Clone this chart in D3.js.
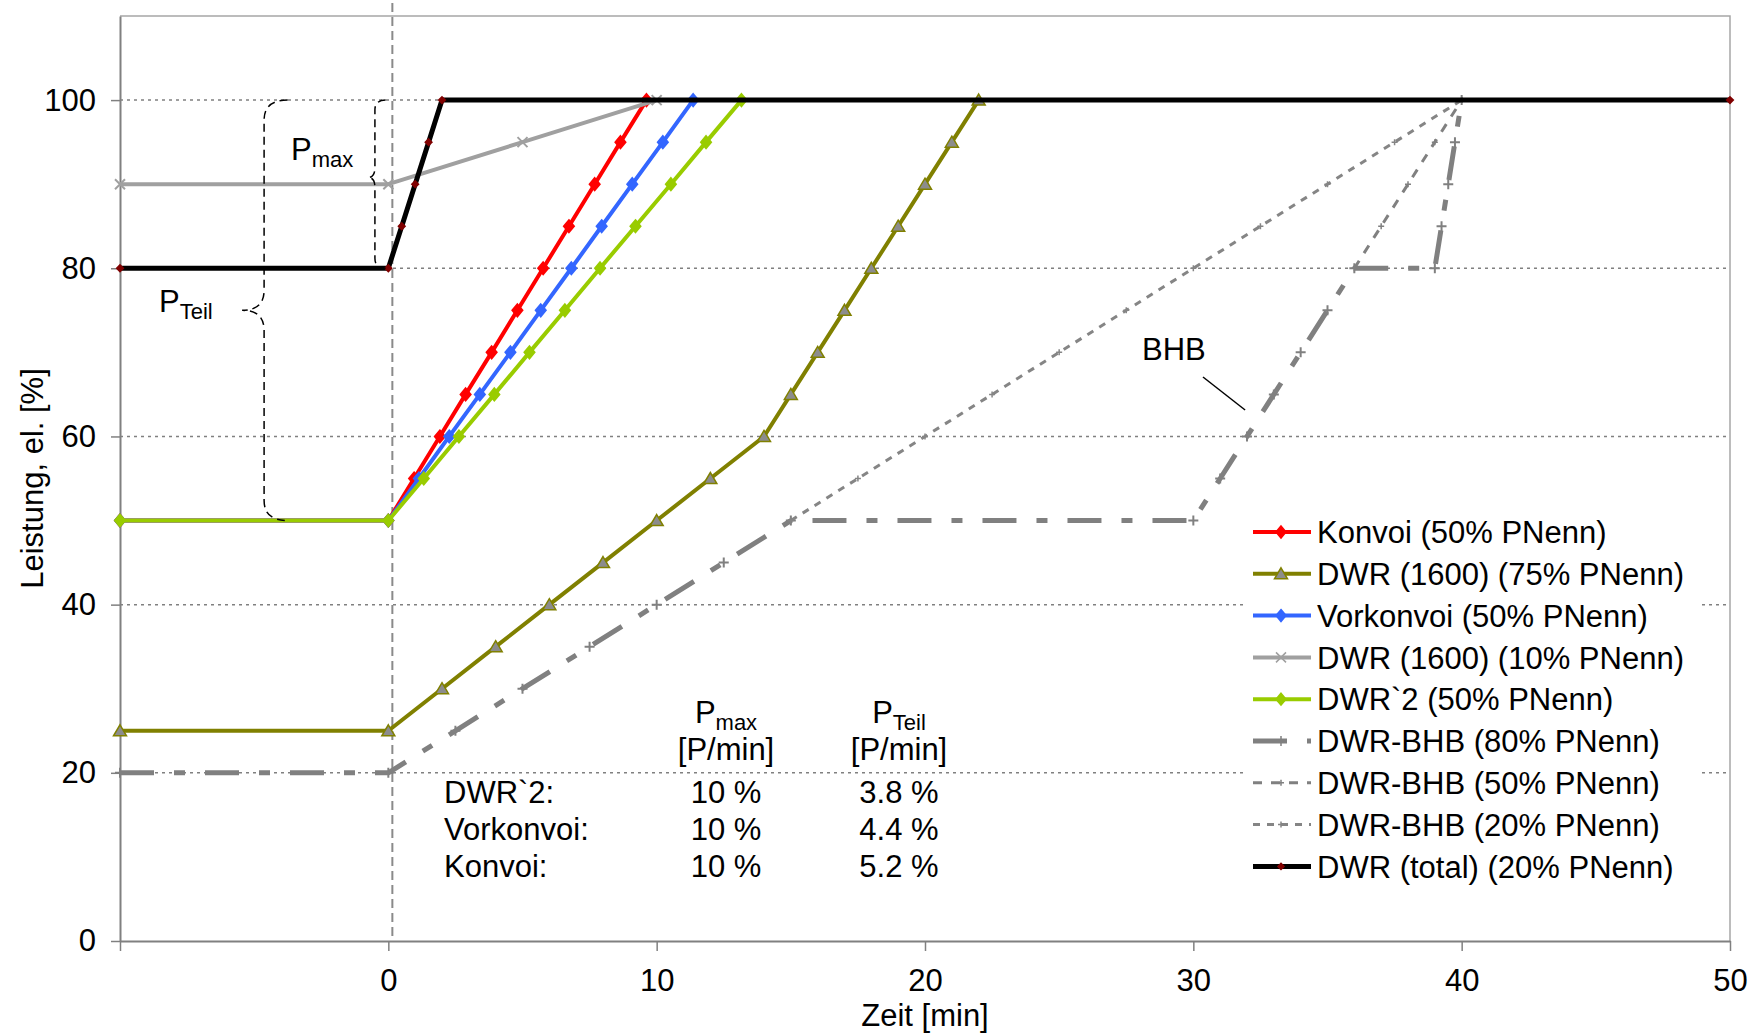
<!DOCTYPE html>
<html>
<head>
<meta charset="utf-8">
<script src="https://cdn.jsdelivr.net/npm/d3@7"></script>
<style>
    body { margin: 0; background: #fff; }
    text { font-family: "Liberation Sans", Arial, sans-serif; fill: #000; }
</style>
</head>
<body>
<div id="graph1"></div>
<script>
// values (x = Zeit [min], y = Leistung [%])
var konvoiX = [-10, 0, 0.96, 1.92, 2.88, 3.85, 4.81, 5.77, 6.73, 7.69, 8.65, 9.62];
var konvoiY = [50, 50, 55, 60, 65, 70, 75, 80, 85, 90, 95, 100];

var dwr75X = [-10, 0, 2, 4, 6, 8, 10, 12, 14, 15, 16, 17, 18, 19, 20, 21, 22];
var dwr75Y = [25, 25, 30, 35, 40, 45, 50, 55, 60, 65, 70, 75, 80, 85, 90, 95, 100];

var vorkonvoiX = [-10, 0, 1.14, 2.27, 3.41, 4.55, 5.68, 6.82, 7.95, 9.09, 10.23, 11.36];
var vorkonvoiY = [50, 50, 55, 60, 65, 70, 75, 80, 85, 90, 95, 100];

var dwr10X = [-10, 0, 5, 10];
var dwr10Y = [90, 90, 95, 100];

var dwr2X = [-10, 0, 1.32, 2.63, 3.95, 5.26, 6.58, 7.89, 9.21, 10.53, 11.84, 13.16];
var dwr2Y = [50, 50, 55, 60, 65, 70, 75, 80, 85, 90, 95, 100];

var bhb80X = [-10, 0, 2.5, 5, 7.5, 10, 12.5, 15, 30, 31, 32, 33, 34, 35, 36, 39, 39.25, 39.5, 39.75, 40];
var bhb80Y = [20, 20, 25, 30, 35, 40, 45, 50, 50, 55, 60, 65, 70, 75, 80, 80, 85, 90, 95, 100];

var bhb50X = [36, 37, 38, 39, 40];
var bhb50Y = [80, 85, 90, 95, 100];

var bhb20X = [15, 17.5, 20, 22.5, 25, 27.5, 30, 32.5, 35, 37.5, 40];
var bhb20Y = [50, 55, 60, 65, 70, 75, 80, 85, 90, 95, 100];

var totalX = [-10, 0, 0.5, 1, 1.5, 2, 50];
var totalY = [80, 80, 85, 90, 95, 100, 100];

var seriesNames = ["Konvoi (50% PNenn)", "DWR (1600) (75% PNenn)", "Vorkonvoi (50% PNenn)",
    "DWR (1600) (10% PNenn)", "DWR`2 (50% PNenn)", "DWR-BHB (80% PNenn)",
    "DWR-BHB (50% PNenn)", "DWR-BHB (20% PNenn)", "DWR (total) (20% PNenn)"];

var xTicks = [-10, 0, 10, 20, 30, 40, 50];
var xTickLabels = ["", "0", "10", "20", "30", "40", "50"];
var yTicks = [0, 20, 40, 60, 80, 100];
var gridValues = [20, 40, 60, 80, 100];
var refLineX = 0.15;

var tableRows = ["DWR`2:", "Vorkonvoi:", "Konvoi:"];
var tablePmax = ["10 %", "10 %", "10 %"];
var tablePTeil = ["3.8 %", "4.4 %", "5.2 %"];

// line / marker styles per series (same order as seriesNames)
var styles = [
    {color: "#FF0000", width: 4, dash: null, marker: "diamond", mfill: "#FF0000", mstroke: "#FF0000"},
    {color: "#808000", width: 4, dash: null, marker: "triangle", mfill: "#8C8C8C", mstroke: "#808000"},
    {color: "#3366FF", width: 4, dash: null, marker: "diamond", mfill: "#3366FF", mstroke: "#3366FF"},
    {color: "#A0A0A0", width: 4, dash: null, marker: "x", mfill: "none", mstroke: "#A0A0A0"},
    {color: "#99CC00", width: 4, dash: null, marker: "diamond", mfill: "#99CC00", mstroke: "#99CC00"},
    {color: "#808080", width: 5, dash: "34,20,11,20", marker: "plus", mfill: "none", mstroke: "#808080"},
    {color: "#808080", width: 3, dash: "9,9", marker: "plussmall", mfill: "none", mstroke: "#808080"},
    {color: "#858585", width: 3, dash: "7,7", marker: "plussmall", mfill: "none", mstroke: "#858585"},
    {color: "#000000", width: 5, dash: null, marker: "dot", mfill: "#800000", mstroke: "#800000"}
];

var allX = [konvoiX, dwr75X, vorkonvoiX, dwr10X, dwr2X, bhb80X, bhb50X, bhb20X, totalX];
var allY = [konvoiY, dwr75Y, vorkonvoiY, dwr10Y, dwr2Y, bhb80Y, bhb50Y, bhb20Y, totalY];

var dataReady = seriesNames.map(function (name, i) {
    return {
        name: name,
        style: styles[i],
        values: allX[i].map(function (v, j) {
            return {x: v, y: allY[i][j]};
        })
    };
});

function markerPath(type) {
    if (type == "diamond") return "M0,-6L5,0L0,6L-5,0Z";
    if (type == "triangle") return "M0,-6L6.5,5L-6.5,5Z";
    if (type == "x") return "M-5,-5L5,5M-5,5L5,-5";
    if (type == "plus") return "M-5,0L5,0M0,-5L0,5";
    if (type == "plussmall") return "M-3,0L3,0M0,-3L0,3";
    return "M0,-3L3,0L0,3L-3,0Z";
}

var W = 1756, H = 1035;
var margin = {top: 16, right: 26, bottom: 94, left: 120};

var svg = d3.select("#graph1")
    .append("svg")
    .attr("width", W)
    .attr("height", H);

var x = d3.scaleLinear().domain([-10, 50]).range([margin.left, W - margin.right]);
var y = d3.scaleLinear().domain([0, 110]).range([H - margin.bottom, margin.top]);

// plot frame (top + right lighter)
svg.append("path")
    .attr("d", "M" + x(-10) + "," + y(110) + "H" + x(50) + "V" + y(0))
    .attr("fill", "none")
    .attr("stroke", "#A6A6A6")
    .attr("stroke-width", 1.5);

// dotted gridlines
svg.selectAll("myGrid")
    .data(gridValues)
    .enter()
    .append("line")
    .attr("x1", x(-10))
    .attr("x2", x(50))
    .attr("y1", function (d) { return y(d); })
    .attr("y2", function (d) { return y(d); })
    .attr("stroke", "#808080")
    .attr("stroke-width", 1.5)
    .attr("stroke-dasharray", "3,4");

// dashed vertical line at t = 0
svg.append("line")
    .attr("x1", x(refLineX))
    .attr("x2", x(refLineX))
    .attr("y1", 3)
    .attr("y2", y(0))
    .attr("stroke", "#8A8A8A")
    .attr("stroke-width", 2)
    .attr("stroke-dasharray", "9,5");

// axes
var yAxis = svg.append("g")
    .attr("transform", "translate(" + x(-10) + ",0)")
    .call(d3.axisLeft(y).tickValues(yTicks).tickSize(9).tickSizeOuter(0).tickPadding(15));
var xAxis = svg.append("g")
    .attr("transform", "translate(0," + y(0) + ")")
    .call(d3.axisBottom(x).tickValues(xTicks).tickSize(10).tickSizeOuter(0).tickPadding(18)
        .tickFormat(function (d, i) { return xTickLabels[i]; }));

[xAxis, yAxis].forEach(function (a) {
    a.select(".domain").attr("stroke", "#808080").attr("stroke-width", 2);
    a.selectAll(".tick line").attr("stroke", "#808080").attr("stroke-width", 1.5);
    a.selectAll(".tick text")
        .style("font-family", "'Liberation Sans', Arial, sans-serif")
        .style("font-size", "31px")
        .attr("fill", "#000");
});

svg.append("text")
    .attr("x", (x(-10) + x(50)) / 2)
    .attr("y", 1026)
    .attr("text-anchor", "middle")
    .style("font-size", "31px")
    .text("Zeit [min]");

svg.append("text")
    .attr("transform", "translate(43," + (y(0) + y(110)) / 2 + ") rotate(-90)")
    .attr("text-anchor", "middle")
    .style("font-size", "31px")
    .text("Leistung, el. [%]");

// the lines + markers, series by series
var line = d3.line()
    .x(function (d) { return x(d.x); })
    .y(function (d) { return y(d.y); });

var groups = svg.selectAll("mySeries")
    .data(dataReady)
    .enter()
    .append("g");

groups.append("path")
    .attr("d", function (d) { return line(d.values); })
    .attr("fill", "none")
    .attr("stroke", function (d) { return d.style.color; })
    .attr("stroke-width", function (d) { return d.style.width; })
    .attr("stroke-dasharray", function (d) { return d.style.dash; })
    .attr("stroke-linejoin", "round");

groups.selectAll("myPoints")
    .data(function (d) {
        return d.values.map(function (v) { return {x: v.x, y: v.y, style: d.style}; });
    })
    .enter()
    .append("path")
    .attr("transform", function (d) { return "translate(" + x(d.x) + "," + y(d.y) + ")"; })
    .attr("d", function (d) { return markerPath(d.style.marker); })
    .attr("fill", function (d) { return d.style.mfill; })
    .attr("stroke", function (d) { return d.style.mstroke; })
    .attr("stroke-width", function (d) { return d.style.marker == "triangle" ? 1.5 : (d.style.marker == "plussmall" ? 1.5 : 2); });

// curly braces for P_max and P_Teil
function brace(xl, xe, xt, yt, ym, yb, r) {
    return "M" + xe + "," + yt +
        "Q" + xl + "," + yt + " " + xl + "," + (yt + r) +
        "L" + xl + "," + (ym - r) +
        "Q" + xl + "," + ym + " " + xt + "," + ym +
        "Q" + xl + "," + ym + " " + xl + "," + (ym + r) +
        "L" + xl + "," + (yb - r) +
        "Q" + xl + "," + yb + " " + xe + "," + yb;
}
svg.append("path")
    .attr("d", brace(x(-0.5), x(-0.1), x(-0.75), y(100), y(90.8), y(80), 10))
    .attr("fill", "none")
    .attr("stroke", "#000")
    .attr("stroke-width", 1.5)
    .attr("stroke-dasharray", "8,5");
svg.append("path")
    .attr("d", brace(x(-4.63), x(-3.75), x(-5.45), y(100), y(75), y(50), 20))
    .attr("fill", "none")
    .attr("stroke", "#000")
    .attr("stroke-width", 1.5)
    .attr("stroke-dasharray", "8,5");

var pmaxLabel = svg.append("text").attr("x", 291).attr("y", 160).style("font-size", "31px").text("P");
pmaxLabel.append("tspan").attr("dy", 7).style("font-size", "22px").text("max");
var pteilLabel = svg.append("text").attr("x", 159).attr("y", 312).style("font-size", "31px").text("P");
pteilLabel.append("tspan").attr("dy", 7).style("font-size", "22px").text("Teil");

// BHB label with leader line
svg.append("text")
    .attr("x", 1142)
    .attr("y", 360)
    .style("font-size", "31px")
    .text("BHB");
svg.append("line")
    .attr("x1", x(30.36)).attr("y1", y(67.07))
    .attr("x2", x(31.93)).attr("y2", y(63.15))
    .attr("stroke", "#000")
    .attr("stroke-width", 1.5);

// little table of gradients
var colPmax = 726, colPTeil = 899, colLabel = 444;
var h1 = svg.append("text").attr("x", colPmax).attr("y", 723).attr("text-anchor", "middle").style("font-size", "31px").text("P");
h1.append("tspan").attr("dy", 7).style("font-size", "22px").text("max");
var h2 = svg.append("text").attr("x", colPTeil).attr("y", 723).attr("text-anchor", "middle").style("font-size", "31px").text("P");
h2.append("tspan").attr("dy", 7).style("font-size", "22px").text("Teil");
svg.append("text").attr("x", colPmax).attr("y", 760).attr("text-anchor", "middle").style("font-size", "31px").text("[P/min]");
svg.append("text").attr("x", colPTeil).attr("y", 760).attr("text-anchor", "middle").style("font-size", "31px").text("[P/min]");

tableRows.forEach(function (r, i) {
    var yy = 803 + i * 37;
    svg.append("text").attr("x", colLabel).attr("y", yy).style("font-size", "31px").text(r);
    svg.append("text").attr("x", colPmax).attr("y", yy).attr("text-anchor", "middle").style("font-size", "31px").text(tablePmax[i]);
    svg.append("text").attr("x", colPTeil).attr("y", yy).attr("text-anchor", "middle").style("font-size", "31px").text(tablePTeil[i]);
});

// legend
svg.append("rect")
    .attr("x", 1243).attr("y", 508)
    .attr("width", 455).attr("height", 382)
    .attr("fill", "#fff");

var legend = svg.selectAll("myLegend")
    .data(dataReady)
    .enter()
    .append("g")
    .attr("transform", function (d, i) { return "translate(1253," + (532 + i * 41.8) + ")"; });

legend.append("line")
    .attr("x1", 0).attr("x2", 58)
    .attr("stroke", function (d) { return d.style.color; })
    .attr("stroke-width", function (d) { return d.style.width; })
    .attr("stroke-dasharray", function (d) { return d.style.dash; });
legend.append("path")
    .attr("transform", "translate(28,0)")
    .attr("d", function (d) { return markerPath(d.style.marker); })
    .attr("fill", function (d) { return d.style.mfill; })
    .attr("stroke", function (d) { return d.style.mstroke; })
    .attr("stroke-width", 1.5);
legend.append("text")
    .attr("x", 64)
    .attr("dy", "0.36em")
    .style("font-size", "31px")
    .text(function (d) { return d.name; });
</script>
</body>
</html>
